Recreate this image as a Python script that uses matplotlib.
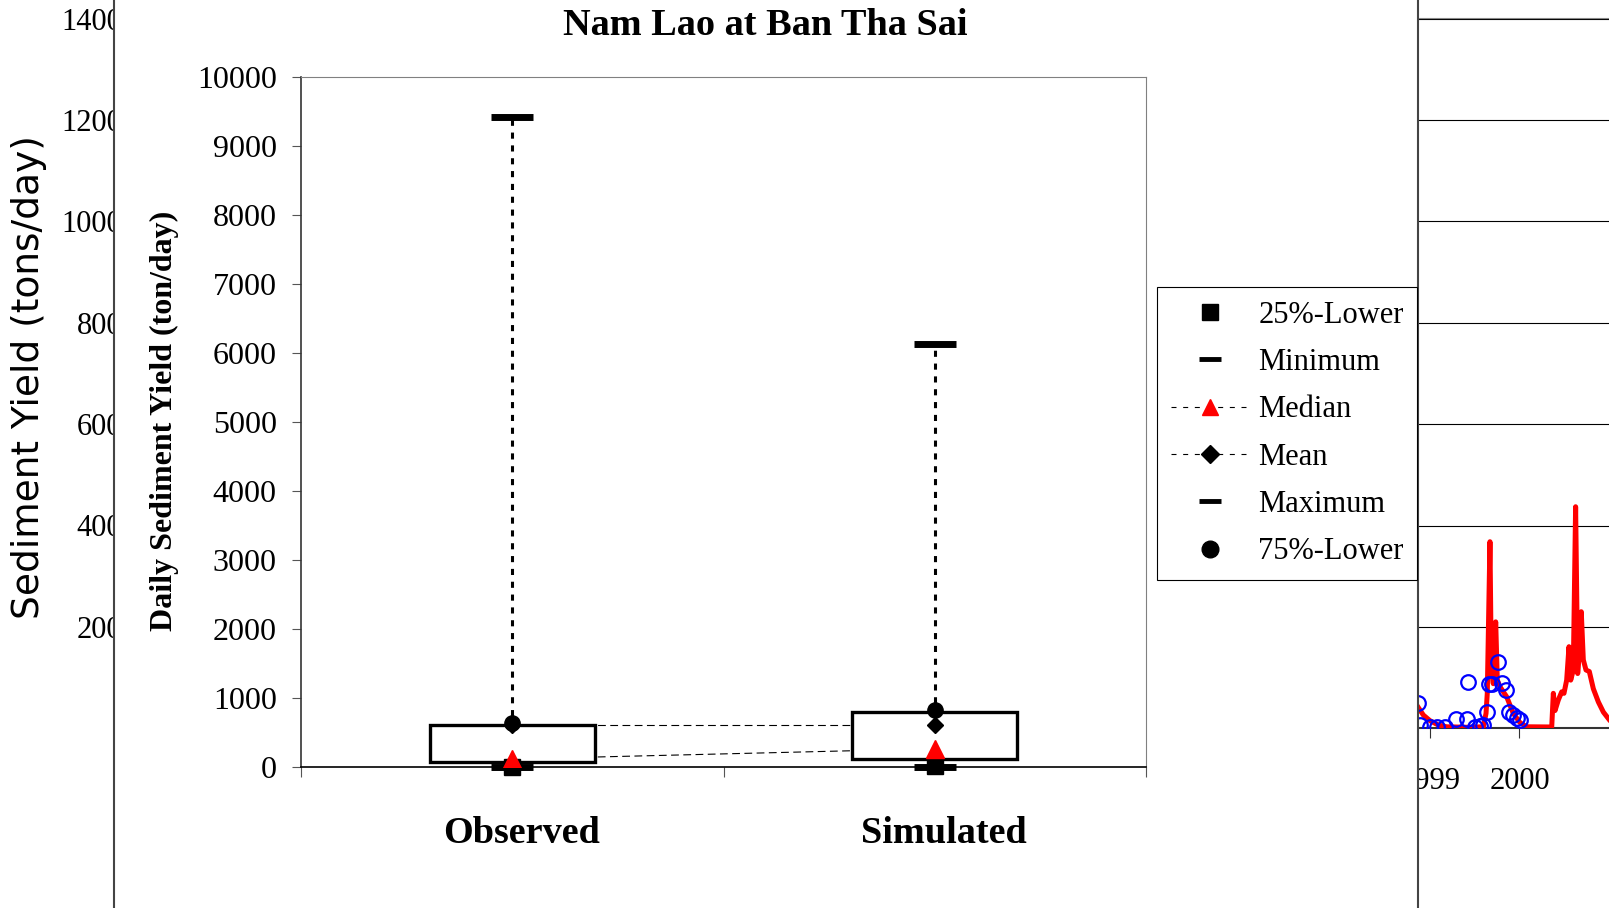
import matplotlib
matplotlib.use('Agg')
import matplotlib.pyplot as plt
from matplotlib.lines import Line2D
from matplotlib.transforms import ScaledTranslation
import numpy as np

# ---------------- data: main box chart ----------------
categories = ['Observed', 'Simulated']
q25_lower = [0, 15]
minimum = [0, 0]
median = [115, 265]
mean = [610, 610]
maximum = [9420, 6130]
q75_lower = [635, 825]
box_lower = [72, 116]
box_upper = [612, 800]
main_yticks = [0, 1000, 2000, 3000, 4000, 5000, 6000, 7000, 8000, 9000, 10000]
legend_labels = ['25%-Lower', 'Minimum', 'Median', 'Mean', 'Maximum', '75%-Lower']

# ---------------- data: background time-series chart (partly hidden) ----------------
bg_yticks = [0, 200, 400, 600, 800, 1000, 1200, 1400]
bg_years = [1999, 2000]
sim_dates = [1998.814, 1998.862, 1998.926, 1999.0, 1999.093, 1999.186, 1999.41, 1999.596,
             1999.626, 1999.64, 1999.67, 1999.685, 1999.707, 1999.734, 1999.752, 1999.782,
             1999.857, 1999.93, 2000.006, 2000.08, 2000.36, 2000.378, 2000.397, 2000.434,
             2000.472, 2000.497, 2000.527, 2000.553, 2000.572, 2000.601, 2000.627, 2000.65,
             2000.668, 2000.69, 2000.713, 2000.743, 2000.78, 2000.825, 2000.881, 2000.937, 2001.0]
sim_vals = [56, 43, 26, 15, 6.5, 3, 2, 3,
            29.5, 69, 368, 121, 88, 210, 95, 82,
            62, 29.5, 11, 3, 2.6, 69, 35, 56,
            72, 69, 95, 161, 95, 115, 437, 108,
            148, 230, 135, 115, 112, 78, 52, 32, 17.6]
obs_dates = [1998.862, 1998.888, 1999.0, 1999.074, 1999.168, 1999.29, 1999.417, 1999.428,
             1999.503, 1999.559, 1999.596, 1999.633, 1999.663, 1999.697, 1999.764, 1999.801,
             1999.849, 1999.886, 1999.924, 1999.969, 2000.006]
obs_vals = [50.5, 6.5, 3, 3, 3, 17.7, 17.7, 90.6,
            3, 4.5, 6.5, 33, 87, 87, 131, 90,
            75, 33, 26, 20, 16.5]

W, H = 1609, 908
plt.rcParams['font.family'] = ['Liberation Serif', 'DejaVu Serif']
fig = plt.figure(figsize=(W / 100, H / 100), dpi=100)

# ---------------- background chart ----------------
ax_bg = fig.add_axes([130 / W, 1 - 728.3 / H, (W - 130) / W, (728.3 - 18.5) / H], zorder=0)
ax_bg.set_xlim(1984.475, 2001.0)
ax_bg.set_ylim(0, 1400)
ax_bg.set_yticks(bg_yticks)
ax_bg.set_yticklabels(['' if v == 0 else str(v) for v in bg_yticks])
ax_bg.set_xticks(bg_years)
ax_bg.set_xticklabels([str(y) for y in bg_years])
ax_bg.tick_params(axis='y', length=0, pad=5.8, labelsize=22)
ax_bg.tick_params(axis='x', length=7, direction='out', pad=21, labelsize=22, color='#333')
ax_bg.grid(axis='y', color='black', lw=0.8)
ax_bg.set_axisbelow(True)
for s in ['left', 'right']:
    ax_bg.spines[s].set_visible(False)
ax_bg.spines['top'].set_color('#888888')
ax_bg.spines['bottom'].set_color('#333333')
ax_bg.spines['bottom'].set_linewidth(1.5)
ax_bg.plot(sim_dates, sim_vals, color='red', lw=3.6, zorder=3)
ax_bg.plot(obs_dates, obs_vals, 'o', mfc='none', mec='blue', ms=10.5, mew=1.6, zorder=4)

fig.text(29 / W, 1 - 377.5 / H, 'Sediment Yield (tons/day)', rotation=90, ha='center', va='center',
         fontsize=27, family=['DejaVu Sans'])

# ---------------- white pasted panel ----------------
ax_ov = fig.add_axes([114 / W, 0, (1418 - 114) / W, 1], zorder=1)
ax_ov.set_facecolor('white')
ax_ov.set_xticks([])
ax_ov.set_yticks([])
for s in ['top', 'bottom']:
    ax_ov.spines[s].set_visible(False)
for s in ['left', 'right']:
    ax_ov.spines[s].set_color('#444444')
    ax_ov.spines[s].set_linewidth(1.5)

# ---------------- main chart ----------------
ax = fig.add_axes([301 / W, 1 - 767 / H, 845 / W, 690 / H], zorder=2)
ax.set_xlim(0, 2)
ax.set_ylim(0, 10000)
xpos = np.arange(len(categories)) + 0.5

ax.vlines(xpos, minimum, maximum, colors='black', lw=2.2, linestyles=(0, (2, 2.2)), zorder=1)
ax.plot(xpos, median, color='black', lw=0.8, dashes=(7, 4), zorder=1.5)
ax.plot(xpos, mean, color='black', lw=0.8, dashes=(7, 4), zorder=1.5)
ax.bar(xpos, np.subtract(box_upper, box_lower), bottom=box_lower, width=0.39,
       facecolor='white', edgecolor='black', lw=2.4, zorder=2)
ax.plot(xpos, q25_lower, ls='none', marker='s', color='black', ms=12, zorder=3, clip_on=False)
ax.plot(xpos, minimum, ls='none', marker='_', color='black', ms=30, mew=5, zorder=3, clip_on=False)
ax.plot(xpos, median, ls='none', marker='^', color='red', ms=12.5, zorder=3)
ax.plot(xpos, mean, ls='none', marker='D', color='black', ms=8.5, zorder=3)
ax.plot(xpos, maximum, ls='none', marker='_', color='black', ms=30, mew=5, zorder=3)
ax.plot(xpos, q75_lower, ls='none', marker='o', color='black', ms=11, zorder=3)

ax.set_yticks(main_yticks)
ax.set_yticklabels([str(v) for v in main_yticks])
ax.tick_params(axis='y', length=6.5, direction='out', pad=11, labelsize=23, color='#555555')
ax.set_xticks([0, 1, 2])
ax.set_xticklabels([])
ax.tick_params(axis='x', which='major', length=7, direction='out', color='#555555')
ax.set_xticks(xpos, categories, minor=True)
ax.tick_params(axis='x', which='minor', length=0, pad=35, labelsize=27.5)
shift = ScaledTranslation(0.09, 0, fig.dpi_scale_trans)
for lab in ax.get_xticklabels(minor=True):
    lab.set_fontweight('bold')
    lab.set_transform(lab.get_transform() + shift)
ax.spines['left'].set_color('#333333')
ax.spines['left'].set_linewidth(1.2)
ax.spines['top'].set_color('#808080')
ax.spines['right'].set_color('#808080')
ax.spines['bottom'].set_color('black')
ax.spines['bottom'].set_linewidth(1.2)

fig.text(765.5 / W, 1 - 25.5 / H, 'Nam Lao at Ban Tha Sai', ha='center', va='center',
         fontsize=27.5, fontweight='bold')
fig.text(164 / W, 1 - 421 / H, 'Daily Sediment Yield (ton/day)', rotation=90, ha='center',
         va='center', fontsize=23, fontweight='bold')

handles = [
    Line2D([], [], ls='none', marker='s', color='black', ms=12),
    Line2D([], [], ls='none', marker='_', color='black', ms=16, mew=3.5),
    Line2D([], [], color='black', lw=0.8, dashes=(4.5, 6), marker='^', mfc='red', mec='red', ms=12),
    Line2D([], [], color='black', lw=0.8, dashes=(4.5, 6), marker='D', mfc='black', mec='black', ms=9),
    Line2D([], [], ls='none', marker='_', color='black', ms=16, mew=3.5),
    Line2D([], [], ls='none', marker='o', color='black', ms=12),
]
leg = ax.legend(handles, legend_labels, loc='upper left', bbox_to_anchor=(1157 / W, 1 - 287 / H),
                bbox_transform=fig.transFigure, fontsize=22, frameon=True, fancybox=False,
                edgecolor='black', framealpha=1, borderpad=0.45, labelspacing=0.6,
                handlelength=2.6, handletextpad=0.26, borderaxespad=0, numpoints=1)
leg.get_frame().set_linewidth(0.8)

fig.savefig('out.png', dpi=100)
